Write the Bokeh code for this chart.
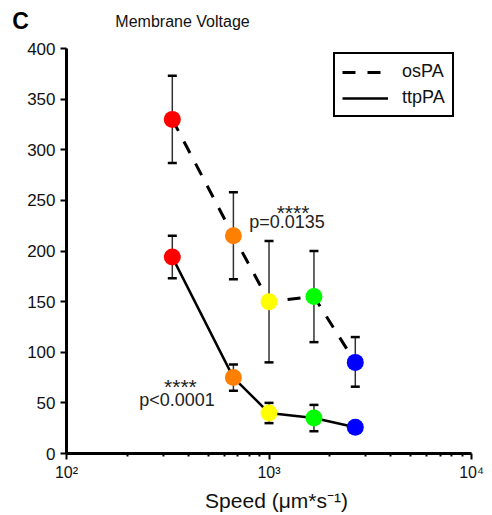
from bokeh.plotting import figure
from bokeh.models import (ColumnDataSource, Whisker, TeeHead, Label, Legend, LegendItem,
                          FixedTicker, Range1d)
from bokeh.embed import file_html
from bokeh.resources import INLINE

speeds = [333, 667, 1000, 1667, 2667]
colors = ["#ff0000", "#ff7f00", "#ffff00", "#00ff00", "#0000ff"]
ospa_mean = [330, 215, 150, 155, 90]
ospa_upper = [373, 258, 210, 200, 115]
ospa_lower = [287, 172, 90, 110, 66]
ttppa_mean = [194, 75, 40, 35, 26]
ttppa_upper = [215, 88, 50, 48, 26]
ttppa_lower = [173, 62, 30, 22, 26]
x_ticks = [100, 1000, 10000]
x_tick_labels = ["10\u00b2", "10\u00b3", "10\u2074"]
x_minor = [200, 300, 400, 500, 600, 700, 800, 900, 2000, 3000, 4000, 5000, 6000, 7000, 8000, 9000]
y_ticks = [0, 50, 100, 150, 200, 250, 300, 350, 400]
x_axis_span = (100, 10000)
y_axis_span = (0, 400)

FONT = "Liberation Sans"

# The frame covers the whole canvas; axes are drawn at fixed locations inside it
p = figure(width=492, height=515, x_axis_type="log",
           x_range=Range1d(47.21, 12694), y_range=Range1d(-61.23, 447.41),
           output_backend="svg", toolbar_location=None,
           min_border_left=0, min_border_right=0, min_border_top=0, min_border_bottom=0)
p.outline_line_color = None
p.xgrid.visible = False
p.ygrid.visible = False
p.background_fill_color = "white"

for ax in (p.xaxis[0], p.yaxis[0]):
    ax.axis_line_width = 3
    ax.axis_line_color = "black"
    ax.major_tick_line_width = 2
    ax.major_tick_line_color = "black"
    ax.major_tick_out = 6
    ax.major_tick_in = 0
    ax.major_label_text_font = FONT
    ax.major_label_text_color = "#111111"

p.xaxis.fixed_location = y_axis_span[0]
p.xaxis.bounds = x_axis_span
p.xaxis.ticker = FixedTicker(ticks=x_ticks, minor_ticks=x_minor)
p.xaxis.major_label_overrides = {t: l for t, l in zip(x_ticks, x_tick_labels)}
p.xaxis.major_label_text_font_size = "16px"
p.xaxis.minor_tick_out = 3
p.xaxis.minor_tick_in = 0
p.xaxis.minor_tick_line_width = 2
p.xaxis.minor_tick_line_color = "black"
p.xaxis.major_label_standoff = 4

p.yaxis.fixed_location = x_axis_span[0]
p.yaxis.bounds = y_axis_span
p.yaxis.ticker = FixedTicker(ticks=y_ticks)
p.yaxis.minor_tick_line_color = None
p.yaxis.major_label_standoff = 5
p.yaxis.major_label_text_font_size = "17px"

src_os = ColumnDataSource(dict(x=speeds, y=ospa_mean, up=ospa_upper, lo=ospa_lower, c=colors))
src_tt = ColumnDataSource(dict(x=speeds, y=ttppa_mean, up=ttppa_upper, lo=ttppa_lower, c=colors))

for src in (src_os, src_tt):
    w = Whisker(source=src, base="x", upper="up", lower="lo",
                line_color="#333333", line_width=1.5,
                upper_head=TeeHead(size=9, line_width=2.5, line_color="black"),
                lower_head=TeeHead(size=9, line_width=2.5, line_color="black"))
    w.level = "underlay"
    p.add_layout(w)

l_os = p.line("x", "y", source=src_os, line_color="black", line_width=3, line_dash="13 12")
l_tt = p.line("x", "y", source=src_tt, line_color="black", line_width=2.5)
p.scatter("x", "y", source=src_os, size=17, fill_color="c", line_color=None)
p.scatter("x", "y", source=src_tt, size=17, fill_color="c", line_color=None)

legend = Legend(items=[LegendItem(label="osPA", renderers=[l_os]),
                       LegendItem(label="ttpPA", renderers=[l_tt])],
                location=(333, 398))
legend.border_line_color = "black"
legend.border_line_alpha = 1
legend.border_line_width = 2
legend.glyph_width = 46
legend.glyph_height = 20
legend.label_height = 20
legend.spacing = 5
legend.padding = 7
legend.label_standoff = 14
legend.label_text_font = FONT
legend.label_text_font_size = "18px"
legend.label_text_color = "#111111"
legend.background_fill_alpha = 1
p.add_layout(legend)

annots = [("****", 1314, 238, "21px"), ("p=0.0135", 1227, 229, "18px"),
          ("****", 365, 66, "21px"), ("p<0.0001", 351, 53, "18px")]
for txt, xx, yy, fs in annots:
    p.add_layout(Label(x=xx, y=yy, text=txt, text_align="center", text_baseline="middle",
                       text_font=FONT, text_font_size=fs, text_color="#222222"))

# panel letter, title and x-axis label
p.add_layout(Label(x=59.3, y=426.7, text="C", text_align="center", text_baseline="middle",
                   text_font=FONT, text_font_size="23px", text_font_style="bold",
                   text_color="black"))
p.add_layout(Label(x=174.3, y=426.7, text="Membrane Voltage",
                   text_align="left", text_baseline="middle", text_font=FONT,
                   text_font_size="16px", text_color="#111111"))
p.add_layout(Label(x=1089, y=-46, text="Speed (\u03bcm*s\u207b\u00b9)",
                   text_align="center", text_baseline="middle", text_font=FONT,
                   text_font_size="21px", text_color="#111111"))

open("out.html", "w").write(file_html(p, INLINE))
